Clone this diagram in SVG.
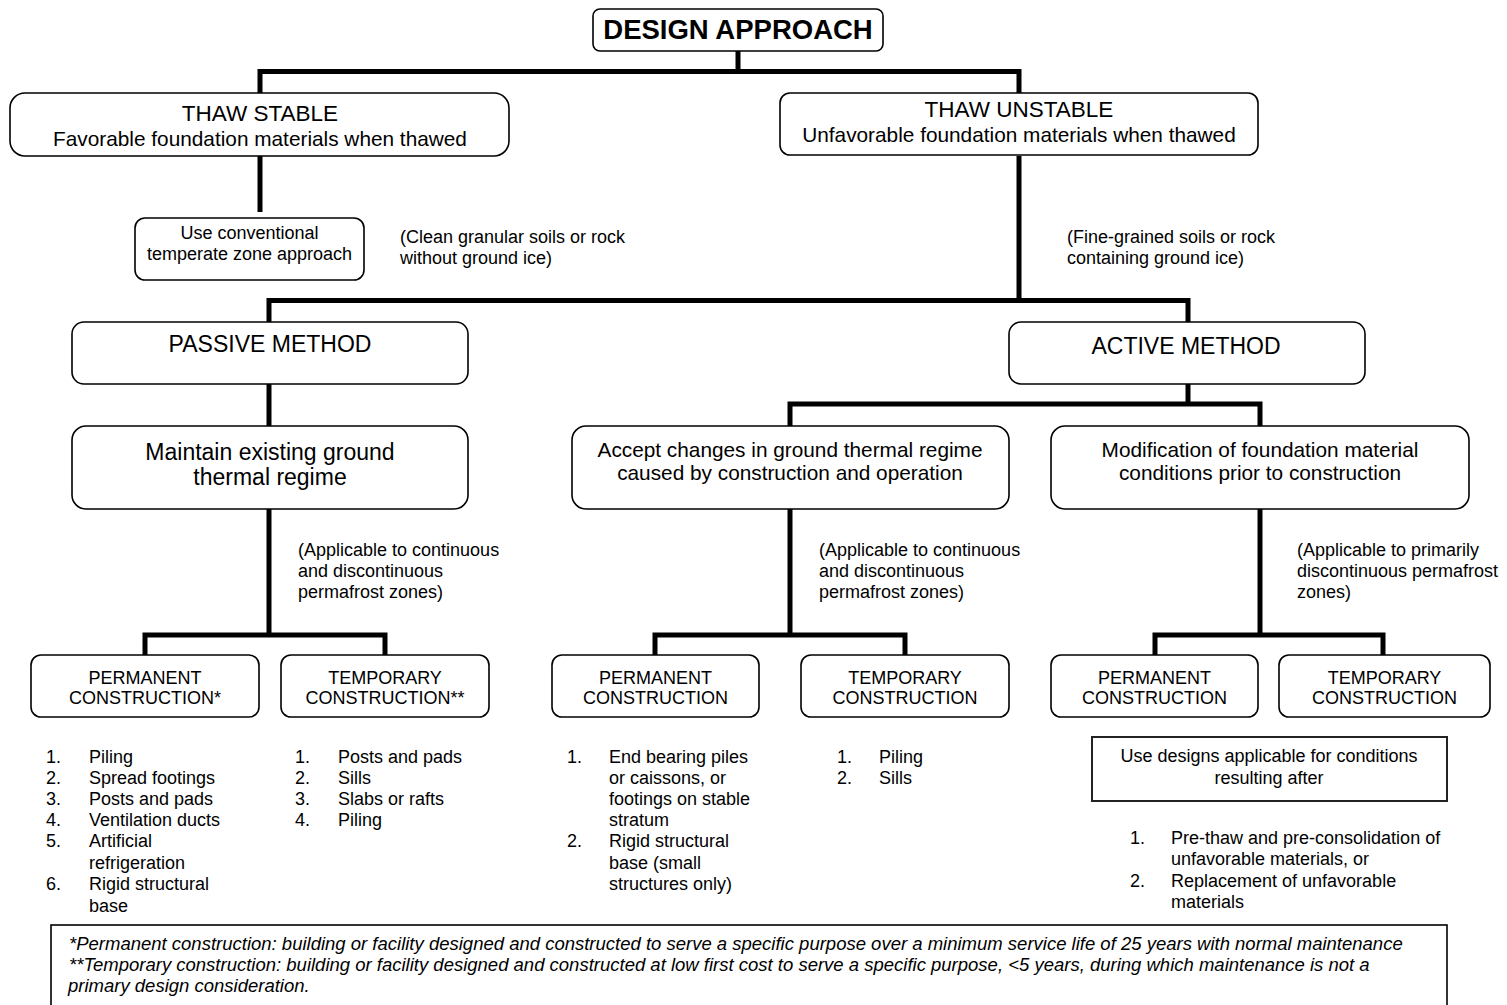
<svg xmlns="http://www.w3.org/2000/svg" width="1507" height="1005" viewBox="0 0 1507 1005">
<style>
text { font-family: "Liberation Sans", Arial, sans-serif; fill: #000; }
.c { text-anchor: middle; }
.box { fill: #fff; stroke: #000; stroke-width: 1.6; }
.sq { fill: #fff; stroke: #222; stroke-width: 2; }
.conn { fill: none; stroke: #000; stroke-width: 5; stroke-linejoin: miter; }
.t23 { font-size: 23px; }
.t22 { font-size: 22.5px; }
.t20 { font-size: 20.8px; }
.t18 { font-size: 18px; }
.ti { font-size: 18.5px; font-style: italic; }
</style>
<rect width="1507" height="1005" fill="#fff"/>
<g id="connectors">
  <path class="conn" d="M738,51 V71.5"/>
  <path class="conn" d="M260,93 V71.5 H1019 V93"/>
  <path class="conn" d="M260,156 V212"/>
  <path class="conn" d="M1019,156 V300.5"/>
  <path class="conn" d="M269,322 V300.5 H1188 V322"/>
  <path class="conn" d="M269,384 V426"/>
  <path class="conn" d="M1188,384 V404"/>
  <path class="conn" d="M790,426 V404 H1260 V426"/>
  <path class="conn" d="M269,509 V635"/>
  <path class="conn" d="M145,655 V635 H385 V655"/>
  <path class="conn" d="M790,509 V635"/>
  <path class="conn" d="M655,655 V635 H905 V655"/>
  <path class="conn" d="M1260,509 V635"/>
  <path class="conn" d="M1155,655 V635 H1383 V655"/>
</g>
<g id="design-approach">
  <rect class="box" x="593" y="9" width="290" height="42" rx="7"/>
  <text class="c" x="738" y="39" style="font-size:27.5px;font-weight:bold">DESIGN APPROACH</text>
</g>
<g id="thaw-stable">
  <rect class="box" x="10" y="93" width="499" height="63" rx="15"/>
  <text class="c t22" x="260" y="121">THAW STABLE</text>
  <text class="c t20" x="260" y="146">Favorable foundation materials when thawed</text>
</g>
<g id="thaw-unstable">
  <rect class="box" x="780" y="93" width="478" height="62" rx="10"/>
  <text class="c t22" x="1019" y="117">THAW UNSTABLE</text>
  <text class="c t20" x="1019" y="142">Unfavorable foundation materials when thawed</text>
</g>
<g id="conventional">
  <rect class="box" x="135" y="218" width="229" height="62" rx="10"/>
  <text class="c t18" x="249.5" y="239">Use conventional</text>
  <text class="c t18" x="249.5" y="260">temperate zone approach</text>
</g>
<g id="note-clean">
  <text class="t18" x="400" y="243">(Clean granular soils or rock</text>
  <text class="t18" x="400" y="263.5">without ground ice)</text>
</g>
<g id="note-fine">
  <text class="t18" x="1067" y="243">(Fine-grained soils or rock</text>
  <text class="t18" x="1067" y="263.5">containing ground ice)</text>
</g>
<g id="passive-method">
  <rect class="box" x="72" y="322" width="396" height="62" rx="12"/>
  <text class="c t23" x="270" y="352">PASSIVE METHOD</text>
</g>
<g id="active-method">
  <rect class="box" x="1009" y="322" width="356" height="62" rx="12"/>
  <text class="c t23" x="1186" y="354">ACTIVE METHOD</text>
</g>
<g id="maintain">
  <rect class="box" x="72" y="426" width="396" height="83" rx="14"/>
  <text class="c t23" x="270" y="460">Maintain existing ground</text>
  <text class="c t23" x="270" y="485">thermal regime</text>
</g>
<g id="accept">
  <rect class="box" x="572" y="426" width="437" height="83" rx="14"/>
  <text class="c t20" x="790" y="457">Accept changes in ground thermal regime</text>
  <text class="c t20" x="790" y="480">caused by construction and operation</text>
</g>
<g id="modification">
  <rect class="box" x="1051" y="426" width="418" height="83" rx="14"/>
  <text class="c t20" x="1260" y="457">Modification of foundation material</text>
  <text class="c t20" x="1260" y="480">conditions prior to construction</text>
</g>
<g id="note-applicable-1">
  <text class="t18" x="298" y="556">(Applicable to continuous</text>
  <text class="t18" x="298" y="577">and discontinuous</text>
  <text class="t18" x="298" y="598">permafrost zones)</text>
</g>
<g id="note-applicable-2">
  <text class="t18" x="819" y="556">(Applicable to continuous</text>
  <text class="t18" x="819" y="577">and discontinuous</text>
  <text class="t18" x="819" y="598">permafrost zones)</text>
</g>
<g id="note-applicable-3">
  <text class="t18" x="1297" y="556">(Applicable to primarily</text>
  <text class="t18" x="1297" y="577">discontinuous permafrost</text>
  <text class="t18" x="1297" y="598">zones)</text>
</g>
<g id="perm-1">
  <rect class="box" x="31" y="655" width="228" height="62" rx="10"/>
  <text class="c t18" x="145" y="684">PERMANENT</text>
  <text class="c t18" x="145" y="704">CONSTRUCTION*</text>
</g>
<g id="temp-1">
  <rect class="box" x="281" y="655" width="208" height="62" rx="10"/>
  <text class="c t18" x="385" y="684">TEMPORARY</text>
  <text class="c t18" x="385" y="704">CONSTRUCTION**</text>
</g>
<g id="perm-2">
  <rect class="box" x="552" y="655" width="207" height="62" rx="10"/>
  <text class="c t18" x="655.5" y="684">PERMANENT</text>
  <text class="c t18" x="655.5" y="704">CONSTRUCTION</text>
</g>
<g id="temp-2">
  <rect class="box" x="801" y="655" width="208" height="62" rx="10"/>
  <text class="c t18" x="905" y="684">TEMPORARY</text>
  <text class="c t18" x="905" y="704">CONSTRUCTION</text>
</g>
<g id="perm-3">
  <rect class="box" x="1051" y="655" width="207" height="62" rx="10"/>
  <text class="c t18" x="1154.5" y="684">PERMANENT</text>
  <text class="c t18" x="1154.5" y="704">CONSTRUCTION</text>
</g>
<g id="temp-3">
  <rect class="box" x="1279" y="655" width="211" height="62" rx="10"/>
  <text class="c t18" x="1384.5" y="684">TEMPORARY</text>
  <text class="c t18" x="1384.5" y="704">CONSTRUCTION</text>
</g>
<g id="list-perm-1">
  <text class="t18" x="46" y="763">1.</text><text class="t18" x="89" y="763">Piling</text>
  <text class="t18" x="46" y="784">2.</text><text class="t18" x="89" y="784">Spread footings</text>
  <text class="t18" x="46" y="805">3.</text><text class="t18" x="89" y="805">Posts and pads</text>
  <text class="t18" x="46" y="826">4.</text><text class="t18" x="89" y="826">Ventilation ducts</text>
  <text class="t18" x="46" y="847">5.</text><text class="t18" x="89" y="847">Artificial</text>
  <text class="t18" x="89" y="869">refrigeration</text>
  <text class="t18" x="46" y="890">6.</text><text class="t18" x="89" y="890">Rigid structural</text>
  <text class="t18" x="89" y="912">base</text>
</g>
<g id="list-temp-1">
  <text class="t18" x="295" y="763">1.</text><text class="t18" x="338" y="763">Posts and pads</text>
  <text class="t18" x="295" y="784">2.</text><text class="t18" x="338" y="784">Sills</text>
  <text class="t18" x="295" y="805">3.</text><text class="t18" x="338" y="805">Slabs or rafts</text>
  <text class="t18" x="295" y="826">4.</text><text class="t18" x="338" y="826">Piling</text>
</g>
<g id="list-perm-2">
  <text class="t18" x="567" y="763">1.</text><text class="t18" x="609" y="763">End bearing piles</text>
  <text class="t18" x="609" y="784">or caissons, or</text>
  <text class="t18" x="609" y="805">footings on stable</text>
  <text class="t18" x="609" y="826">stratum</text>
  <text class="t18" x="567" y="847">2.</text><text class="t18" x="609" y="847">Rigid structural</text>
  <text class="t18" x="609" y="869">base (small</text>
  <text class="t18" x="609" y="890">structures only)</text>
</g>
<g id="list-temp-2">
  <text class="t18" x="837" y="763">1.</text><text class="t18" x="879" y="763">Piling</text>
  <text class="t18" x="837" y="784">2.</text><text class="t18" x="879" y="784">Sills</text>
</g>
<g id="use-designs">
  <rect class="sq" x="1092" y="737" width="355" height="64"/>
  <text class="c t18" x="1269" y="762">Use designs applicable for conditions</text>
  <text class="c t18" x="1269" y="784">resulting after</text>
</g>
<g id="list-modification">
  <text class="t18" x="1130" y="844">1.</text><text class="t18" x="1171" y="844">Pre-thaw and pre-consolidation of</text>
  <text class="t18" x="1171" y="865">unfavorable materials, or</text>
  <text class="t18" x="1130" y="887">2.</text><text class="t18" x="1171" y="887">Replacement of unfavorable</text>
  <text class="t18" x="1171" y="908">materials</text>
</g>
<g id="footnote">
  <rect class="box" x="51" y="925" width="1396" height="82" stroke-width="1.5"/>
  <text class="ti" x="69" y="950">*Permanent construction: building or facility designed and constructed to serve a specific purpose over a minimum service life of 25 years with normal maintenance</text>
  <text class="ti" x="69" y="971">**Temporary construction: building or facility designed and constructed at low first cost to serve a specific purpose, &lt;5 years, during which maintenance is not a</text>
  <text class="ti" x="68" y="992">primary design consideration.</text>
</g>
</svg>
